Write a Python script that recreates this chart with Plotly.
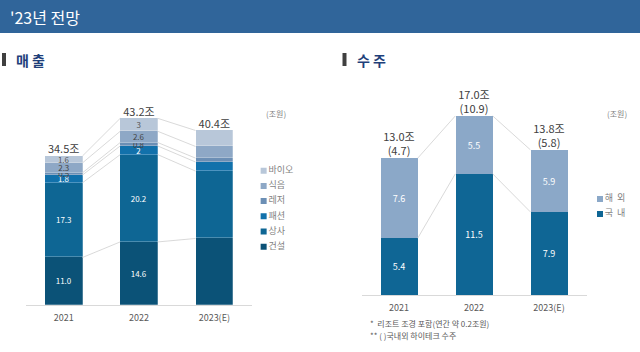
import plotly.graph_objects as go

# ---------------- data ----------------
years = ["2021", "2022", "2023(E)"]

# 매출 (sales), 조원
sales_construction = [11.0, 14.6, 15.4]   # 건설
sales_trading = [17.3, 20.2, 15.6]        # 상사
sales_fashion = [1.8, 2.0, 2.1]           # 패션
sales_leisure = [0.5, 0.8, 0.9]           # 레저
sales_food = [2.3, 2.6, 2.7]              # 식음
sales_bio = [1.6, 3.0, 3.7]               # 바이오
sales_totals = [34.5, 43.2, 40.4]

lbl_construction = ["11.0", "14.6", ""]
lbl_trading = ["17.3", "20.2", ""]
lbl_fashion = ["1.8", "2", ""]
lbl_leisure = ["0.5", "0.8", ""]
lbl_food = ["2.3", "2.6", ""]
lbl_bio = ["1.6", "3", ""]

# 수주 (orders), 조원
orders_domestic = [5.4, 11.5, 7.9]   # 국내
orders_overseas = [7.6, 5.5, 5.9]    # 해외
orders_totals = [13.0, 17.0, 13.8]
orders_hightech = ["4.7", "10.9", "5.8"]

FONT = "Noto Sans CJK KR"
W, H = 640, 352


def px(x):
    return x / W


def py(y):
    return 1 - y / H


fig = go.Figure()

xs = [0, 1, 2]
BW = 0.5

# ---------- left chart: sales ----------
sales_series = [
    ("건설", sales_construction, lbl_construction, "#0b5277", "white"),
    ("상사", sales_trading, lbl_trading, "#0e6694", "white"),
    ("패션", sales_fashion, lbl_fashion, "#1271ab", "white"),
    ("레저", sales_leisure, lbl_leisure, "#6c8fb5", "#444444"),
    ("식음", sales_food, lbl_food, "#8ea8c6", "#444444"),
    ("바이오", sales_bio, lbl_bio, "#b8c7d9", "#555555"),
]

# connector lines (cumulative boundaries)
cum = [0, 0, 0]
bounds = []
for name, vals, _, _, _ in sales_series:
    cum = [c + v for c, v in zip(cum, vals)]
    bounds.append(list(cum))
for b in bounds:
    for i in range(2):
        fig.add_trace(go.Scatter(
            x=[xs[i] + BW / 2, xs[i + 1] - BW / 2], y=[b[i], b[i + 1]],
            mode="lines", line=dict(color="#cfcfcf", width=0.8),
            showlegend=False, hoverinfo="skip", xaxis="x", yaxis="y"))

for name, vals, lbls, col, tcol in sales_series:
    fig.add_trace(go.Bar(
        x=xs, y=vals, name=name, width=BW,
        marker=dict(color=col, line=dict(color="rgba(255,255,255,0.5)", width=0.5)),
        text=lbls, textposition="inside", insidetextanchor="middle", textangle=0,
        textfont=dict(size=8, color=tcol, family=FONT),
        showlegend=False, xaxis="x", yaxis="y", hoverinfo="skip"))

fig.add_trace(go.Scatter(
    x=xs, y=sales_totals, mode="text",
    text=[f"{t:.1f}조" for t in sales_totals], textposition="top center",
    textfont=dict(size=11, color="#404040", family=FONT),
    showlegend=False, hoverinfo="skip", xaxis="x", yaxis="y"))

# left legend (top-down order)
leg_items = list(reversed(sales_series))
fig.add_trace(go.Scatter(
    x=[0] * len(leg_items), y=list(range(len(leg_items))),
    mode="markers+text",
    marker=dict(symbol="square", size=6, color=[s[3] for s in leg_items]),
    text=[s[0] for s in leg_items], textposition="middle right",
    textfont=dict(size=9, color="#7f7f7f", family=FONT),
    showlegend=False, hoverinfo="skip", xaxis="x3", yaxis="y3"))

# ---------- right chart: orders ----------
orders_series = [
    ("국\u00a0\u00a0내", orders_domestic, "#0f6695"),
    ("해\u00a0\u00a0외", orders_overseas, "#8ba8c8"),
]
cum = [0, 0, 0]
obounds = []
for name, vals, _ in orders_series:
    cum = [c + v for c, v in zip(cum, vals)]
    obounds.append(list(cum))
for b in obounds:
    for i in range(2):
        fig.add_trace(go.Scatter(
            x=[xs[i] + BW / 2, xs[i + 1] - BW / 2], y=[b[i], b[i + 1]],
            mode="lines", line=dict(color="#cfcfcf", width=0.8),
            showlegend=False, hoverinfo="skip", xaxis="x2", yaxis="y2"))

for name, vals, col in orders_series:
    fig.add_trace(go.Bar(
        x=xs, y=vals, name=name, width=BW,
        marker=dict(color=col, line=dict(width=0)),
        text=[f"{v:.1f}" for v in vals], textposition="inside",
        insidetextanchor="middle", textangle=0,
        textfont=dict(size=9, color="white", family=FONT),
        showlegend=False, xaxis="x2", yaxis="y2", hoverinfo="skip"))

fig.add_trace(go.Scatter(
    x=xs, y=orders_totals, mode="text",
    text=[f"{t:.1f}조<br>({h})" for t, h in zip(orders_totals, orders_hightech)],
    textposition="top center",
    textfont=dict(size=11, color="#404040", family=FONT),
    showlegend=False, hoverinfo="skip", xaxis="x2", yaxis="y2"))

# right legend
oleg = list(reversed(orders_series))
fig.add_trace(go.Scatter(
    x=[0] * len(oleg), y=list(range(len(oleg))),
    mode="markers+text",
    marker=dict(symbol="square", size=6, color=[s[2] for s in oleg]),
    text=[s[0] for s in oleg], textposition="middle right",
    textfont=dict(size=9, color="#7f7f7f", family=FONT),
    showlegend=False, hoverinfo="skip", xaxis="x4", yaxis="y4"))

axis_common = dict(
    tickmode="array", tickvals=xs, ticktext=years, range=[-0.5, 2.5],
    showgrid=False, zeroline=False, showline=True, linecolor="#d9d9d9",
    linewidth=1, ticks="outside", ticklen=4, tickcolor="rgba(0,0,0,0)",
    tickfont=dict(size=9, color="#595959", family=FONT), fixedrange=True)
yaxis_common = dict(visible=False, showgrid=False, zeroline=False, fixedrange=True)
hidden = dict(visible=False, showgrid=False, zeroline=False, fixedrange=True)

fig.update_layout(
    width=W, height=H, margin=dict(l=0, r=0, t=0, b=0),
    paper_bgcolor="white", plot_bgcolor="rgba(0,0,0,0)",
    barmode="stack", bargap=0, showlegend=False,
    font=dict(family=FONT, color="#595959"),
    uniformtext=dict(mode="show", minsize=7),
    xaxis=dict(domain=[px(26), px(252)], anchor="y", **axis_common),
    yaxis=dict(domain=[py(305), py(100)], range=[0, (305 - 100) / 4.32], anchor="x", **yaxis_common),
    xaxis2=dict(domain=[px(361.5), px(586.5)], anchor="y2", **axis_common),
    yaxis2=dict(domain=[py(295), py(90)], range=[0, (295 - 90) / 10.53], anchor="x2", **yaxis_common),
    xaxis3=dict(domain=[px(258), px(320)], range=[-0.1, 1], anchor="y3", **hidden),
    yaxis3=dict(domain=[py(254.3), py(163.1)], range=[5.5, -0.5], anchor="x3", **hidden),
    xaxis4=dict(domain=[px(596), px(640)], range=[-0.1, 1], anchor="y4", **hidden),
    yaxis4=dict(domain=[py(221.5), py(191.5)], range=[1.5, -0.5], anchor="x4", **hidden),
)

# header band
fig.add_shape(type="rect", xref="paper", yref="paper", x0=0, x1=1, y0=py(33), y1=1,
              fillcolor="#30659a", line=dict(width=0), layer="below")
fig.add_annotation(text="'23년 전망", xref="paper", yref="paper", x=px(8), y=py(17),
                   xanchor="left", yanchor="middle", showarrow=False,
                   font=dict(size=16, color="white", family=FONT))

# section markers
for x0, title in [(2, "매 출"), (342.5, "수 주")]:
    fig.add_shape(type="rect", xref="paper", yref="paper", x0=px(x0), x1=px(x0 + 4),
                  y0=py(66), y1=py(53), fillcolor="#404040", line=dict(width=0))
    fig.add_annotation(text=f"<b>{title}</b>", xref="paper", yref="paper",
                       x=px(x0 + 12), y=py(60), xanchor="left", yanchor="middle",
                       showarrow=False, font=dict(size=14, color="#1f3f7a", family=FONT))

# units
for x in [276, 617]:
    fig.add_annotation(text="(조원)", xref="paper", yref="paper", x=px(x), y=py(113),
                       xanchor="center", yanchor="middle", showarrow=False,
                       font=dict(size=8, color="#7f7f7f", family=FONT))

# footnotes
fig.add_annotation(text="*  리조트 조경 포함(연간 약 0.2조원)", xref="paper", yref="paper",
                   x=px(368), y=py(323), xanchor="left", yanchor="middle", showarrow=False,
                   font=dict(size=8, color="#595959", family=FONT))
fig.add_annotation(text="** ( )국내외 하이테크 수주", xref="paper", yref="paper",
                   x=px(368), y=py(335), xanchor="left", yanchor="middle", showarrow=False,
                   font=dict(size=8, color="#595959", family=FONT))

fig.write_html("out.html")
